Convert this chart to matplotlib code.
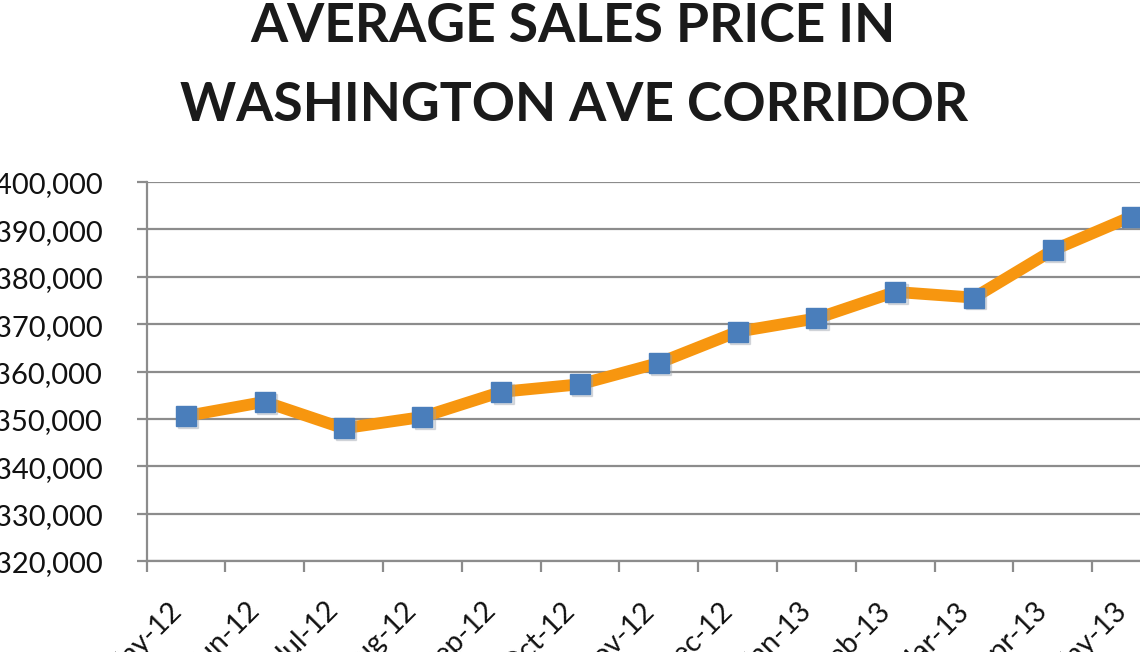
import matplotlib
matplotlib.use("Agg")
import matplotlib.pyplot as plt
from matplotlib.ticker import FuncFormatter, FixedLocator
import numpy as np

months = ["May-12", "Jun-12", "Jul-12", "Aug-12", "Sep-12", "Oct-12", "Nov-12",
          "Dec-12", "Jan-13", "Feb-13", "Mar-13", "Apr-13", "May-13"]
avg_price = [350600, 353600, 348000, 350400, 355700, 357300, 361800,
             368400, 371200, 376800, 375600, 385600, 392700]
title_lines = ["AVERAGE SALES PRICE IN", "WASHINGTON AVE CORRIDOR"]

W, H = 1140, 652
fig = plt.figure(figsize=(W / 100, H / 100), dpi=100)
fig.patch.set_facecolor("white")

font = "Lato"
grid_c = "#8c8c8c"

left_px, right_px = 146.6, 146.6 + 13 * 78.8
top_px, bot_px = 182, 561
ax = fig.add_axes([left_px / W, 1 - bot_px / H, (right_px - left_px) / W, (bot_px - top_px) / H])

x = np.arange(len(months))
ax.plot(x, avg_price, color="#F7960F", lw=8.5, solid_joinstyle="miter", zorder=3)
ax.plot(x + 0.03, np.array(avg_price) - 400, ls="none", marker="s", ms=14,
        color="#9aa3ad", alpha=0.35, zorder=3.5)
ax.plot(x, avg_price, ls="none", marker="s", ms=14, color="#4A7EBB", zorder=4)

ax.set_xlim(-0.5, len(months) - 0.5)
ax.set_ylim(320000, 400000)
ax.set_yticks(np.arange(320000, 400001, 10000))
ax.yaxis.set_major_formatter(FuncFormatter(lambda v, p: f"${v:,.0f}"))
ax.grid(axis="y", color=grid_c, lw=1.6)
ax.set_axisbelow(True)

ax.set_xticks(x)
ax.set_xticklabels(months, rotation=45, ha="right", va="top", rotation_mode="default")
ax.xaxis.set_minor_locator(FixedLocator(np.arange(-0.5, len(months), 1.0)))
ax.tick_params(axis="x", which="major", length=0, pad=26, labelsize=20.5)
ax.tick_params(axis="x", which="minor", length=8, width=1.6, color=grid_c, direction="out")
ax.tick_params(axis="y", length=7.5, width=1.6, color=grid_c, direction="out", pad=24, labelsize=21)
for lab in ax.get_xticklabels() + ax.get_yticklabels():
    lab.set_fontfamily(font)
    lab.set_color("#111111")

for s in ["top", "right"]:
    ax.spines[s].set_visible(False)
for s in ["left", "bottom"]:
    ax.spines[s].set_color(grid_c)
    ax.spines[s].set_linewidth(1.6)

fig.text(0.503, 1 - 42 / H, title_lines[0], ha="center", va="baseline",
         fontsize=38.5, fontweight="bold", fontfamily=font, color="#1a1a1a")
fig.text(0.504, 1 - 121 / H, title_lines[1], ha="center", va="baseline",
         fontsize=38.5, fontweight="bold", fontfamily=font, color="#1a1a1a")

fig.savefig("out.png", dpi=100)
